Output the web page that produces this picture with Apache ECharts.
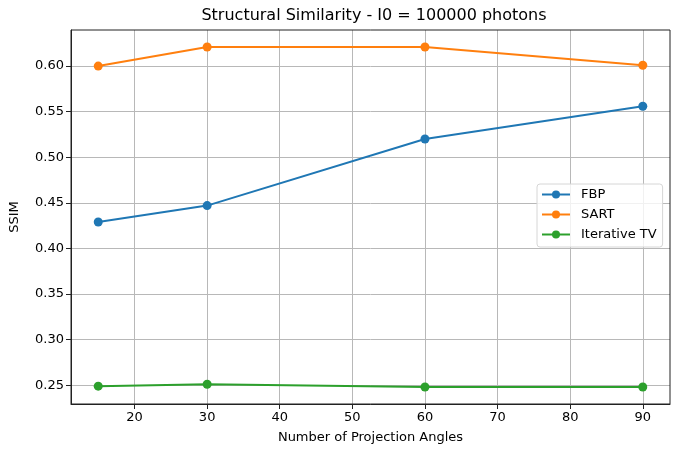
<!DOCTYPE html>
<html>
<head>
<meta charset="utf-8">
<script src="https://cdn.jsdelivr.net/npm/echarts@6/dist/echarts.min.js"></script>
<style>
  html, body { margin: 0; padding: 0; background: #fff; }
  #chart { width: 680px; height: 455px; }
</style>
</head>
<body>
<div id="chart"></div>
<script>
// 数据
const angles = [15, 30, 60, 90];
const fbp = [0.429, 0.447, 0.520, 0.556];
const sart = [0.600, 0.621, 0.621, 0.601];
const iterTV = [0.249, 0.251, 0.248, 0.248];
const xTicks = [20, 30, 40, 50, 60, 70, 80, 90];
const yTicks = [0.25, 0.30, 0.35, 0.40, 0.45, 0.50, 0.55, 0.60];

const font = 'DejaVu Sans';
const colors = ['#1f77b4', '#ff7f0e', '#2ca02c'];
const xMin = 11.25, xMax = 93.75;
const yMin = 0.2294, yMax = 0.6396;

function pairs(ys) {
    return angles.map(function (a, i) { return [a, ys[i]]; });
}

function lineSeries(name, ys, color) {
    return {
        name: name,
        type: 'line',
        data: pairs(ys),
        symbol: 'circle',
        symbolSize: 9,
        showSymbol: true,
        lineStyle: { color: color, width: 2 },
        itemStyle: { color: color },
        emphasis: { disabled: true },
        animation: false,
    };
}

const option = {
    backgroundColor: '#fff',
    title: {
        text: 'Structural Similarity - I0 = 100000 photons',
        left: 369,
        top: 3,
        textAlign: 'center',
        textStyle: { fontFamily: font, fontSize: 16, fontWeight: 'normal', color: '#000' },
    },
    legend: {
        orient: 'vertical',
        left: 537,
        top: 184,
        padding: [4, 6, 6, 4],
        itemGap: 7,
        itemWidth: 28,
        itemHeight: 10,
        backgroundColor: 'rgba(255,255,255,0.8)',
        borderColor: '#d6d6d6',
        borderWidth: 1,
        borderRadius: 3,
        textStyle: { fontFamily: font, fontSize: 13, color: '#000', padding: [0, 0, 0, 6] },
        data: ['FBP', 'SART', 'Iterative TV'],
    },
    grid: { left: 68, right: 10, top: 30, bottom: 51, containLabel: false },
    xAxis: {
        type: 'value',
        min: xMin,
        max: xMax,
        name: 'Number of Projection Angles',
        nameLocation: 'middle',
        nameGap: 27,
        nameTextStyle: { fontFamily: font, fontSize: 13, color: '#000' },
        axisLine: { onZero: false, lineStyle: { color: '#222', width: 1 } },
        axisTick: { show: true, length: 5, customValues: xTicks, lineStyle: { color: '#222' } },
        axisLabel: { customValues: xTicks, fontFamily: font, fontSize: 13, color: '#000', margin: 7 },
        splitLine: { show: true, lineStyle: { color: '#b8b8b8', width: 1 } },
    },
    yAxis: {
        type: 'value',
        min: yMin,
        max: yMax,
        name: 'SSIM',
        nameLocation: 'middle',
        nameGap: 50,
        nameTextStyle: { fontFamily: font, fontSize: 13, color: '#000' },
        axisLine: { show: true, lineStyle: { color: '#222', width: 1 } },
        axisTick: { show: true, length: 5, customValues: yTicks, lineStyle: { color: '#222' } },
        axisLabel: {
            customValues: yTicks,
            fontFamily: font, fontSize: 13, color: '#000', margin: 7,
            formatter: function (v) { return v.toFixed(2); },
        },
        splitLine: { show: true, lineStyle: { color: '#b8b8b8', width: 1 } },
    },
    series: [
        lineSeries('FBP', fbp, colors[0]),
        lineSeries('SART', sart, colors[1]),
        lineSeries('Iterative TV', iterTV, colors[2]),
    ],
};

const myChart = echarts.init(document.getElementById('chart'));
myChart.setOption(option);

// 用网格坐标补上顶部和右侧的边框
const tl = myChart.convertToPixel({ gridIndex: 0 }, [xMin, yMax]);
const br = myChart.convertToPixel({ gridIndex: 0 }, [xMax, yMin]);
myChart.setOption({
    graphic: [{
        type: 'rect',
        shape: { x: tl[0], y: tl[1], width: br[0] - tl[0], height: br[1] - tl[1] },
        style: { fill: 'none', stroke: '#222', lineWidth: 1 },
        silent: true,
        z: 10,
    }],
});
</script>
</body>
</html>
